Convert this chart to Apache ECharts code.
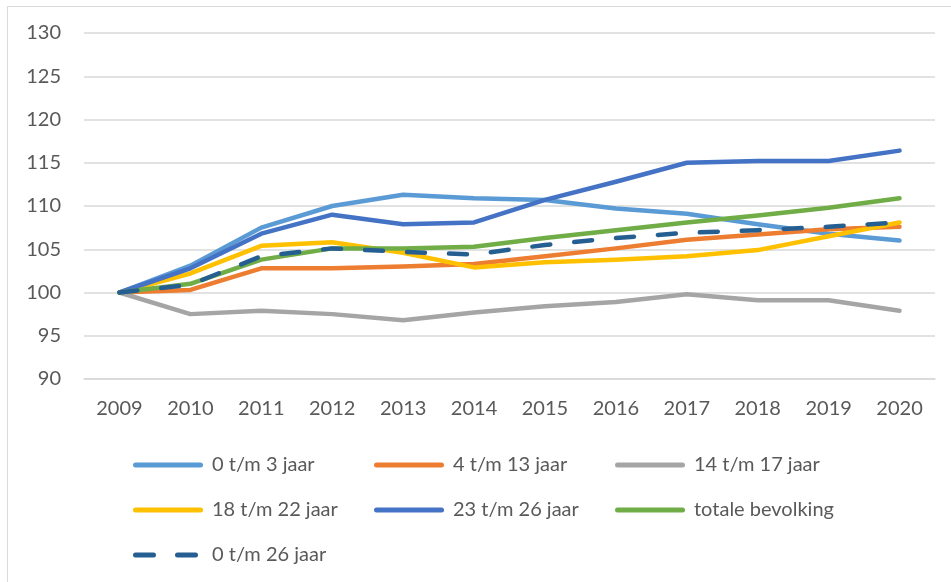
<!DOCTYPE html>
<html>
<head>
<meta charset="utf-8">
<script src="https://cdn.jsdelivr.net/npm/echarts@6/dist/echarts.min.js"></script>
<style>
html,body{margin:0;padding:0;background:#fff;}
#c{width:951px;height:582px;}
</style>
</head>
<body>
<div id="c"></div>
<script>
const years = ['2009','2010','2011','2012','2013','2014','2015','2016','2017','2018','2019','2020'];
const names = ['0 t/m 3 jaar','4 t/m 13 jaar','14 t/m 17 jaar','18 t/m 22 jaar','23 t/m 26 jaar','totale bevolking','0 t/m 26 jaar'];
const age0_3   = [100,103.1,107.5,110.0,111.3,110.9,110.7,109.7,109.1,107.9,106.8,106.0];
const age4_13  = [100,100.3,102.8,102.8,103.0,103.3,104.2,105.1,106.1,106.7,107.3,107.6];
const age14_17 = [100,97.5,97.9,97.5,96.8,97.7,98.4,98.9,99.8,99.1,99.1,97.9];
const age18_22 = [100,102.2,105.4,105.8,104.6,102.9,103.5,103.8,104.2,104.9,106.5,108.1];
const age23_26 = [100,102.8,106.8,109.0,107.9,108.1,110.7,112.8,115.0,115.2,115.2,116.4];
const totaal   = [100,101.0,103.8,105.1,105.1,105.3,106.3,107.2,108.1,108.9,109.8,110.9];
const age0_26  = [100,100.9,104.2,105.1,104.7,104.4,105.5,106.3,106.9,107.2,107.6,108.1];
const yTicks = {min:90, max:130, interval:5};

const colors = ['#5B9BD5','#ED7D31','#A5A5A5','#FFC000','#4472C4','#70AD47','#255E91'];
const dataSets = [age0_3, age4_13, age14_17, age18_22, age23_26, totaal, age0_26];
const font = 'Lato, "Open Sans", sans-serif';
const txt = '#595959';

const series = names.map((n,i)=>({
  name:n, type:'line', data:dataSets[i], symbol:'none', smooth:false,
  lineStyle:{width:4.5, color:colors[i], cap:'round', join:'round',
    type: i===6 ? [18,24] : 'solid'},
  itemStyle:{color:colors[i]},
  z: i===6 ? 10 : 2+i
}));

const solidIcon = 'path://M2.5,0H67.5A2.5,2.5 0 0 1 67.5,5H2.5A2.5,2.5 0 0 1 2.5,0Z';
const dashIcon = 'path://M2.5,0H20.5A2.5,2.5 0 0 1 20.5,5H2.5A2.5,2.5 0 0 1 2.5,0Z M44.5,0H62.5A2.5,2.5 0 0 1 62.5,5H44.5A2.5,2.5 0 0 1 44.5,0Z';
const legendPos = [[133,465],[374,465],[615,465],[133,510],[374,510],[615,510],[133,555]];
const legends = names.map((n,i)=>({
  data:[{name:n, icon: i===6 ? dashIcon : solidIcon, itemStyle:{color:colors[i], opacity:1}}],
  left:legendPos[i][0], top:legendPos[i][1]-12, padding:0,
  itemWidth: i===6 ? 65 : 70, itemHeight:5, itemGap:0, selectedMode:false,
  textStyle:{color:txt, fontSize:20, fontFamily:font, padding:[0,0,0, i===6 ? 9 : 4], lineHeight:24}
}));

const chart = echarts.init(document.getElementById('c'));
chart.setOption({
  animation:false,
  backgroundColor:'#fff',
  graphic:[{type:'rect', shape:{x:7.5,y:6.5,width:1000,height:1000}, style:{fill:'none', stroke:'#D9D9D9', lineWidth:1}}],
  legend: legends,
  grid:{left:84, right:16, top:33, bottom:203},
  xAxis:{type:'category', data:years, boundaryGap:true,
    axisLine:{show:true, lineStyle:{color:'#D9D9D9', width:1.5}},
    axisTick:{show:false},
    axisLabel:{color:txt, fontSize:20, fontFamily:font, margin:20}},
  yAxis:{type:'value', min:yTicks.min, max:yTicks.max, interval:yTicks.interval,
    axisLine:{show:false}, axisTick:{show:false},
    splitLine:{lineStyle:{color:'#D9D9D9', width:1.5}},
    axisLabel:{color:txt, fontSize:20, fontFamily:font, margin:23}},
  series: series
});
</script>
</body>
</html>
